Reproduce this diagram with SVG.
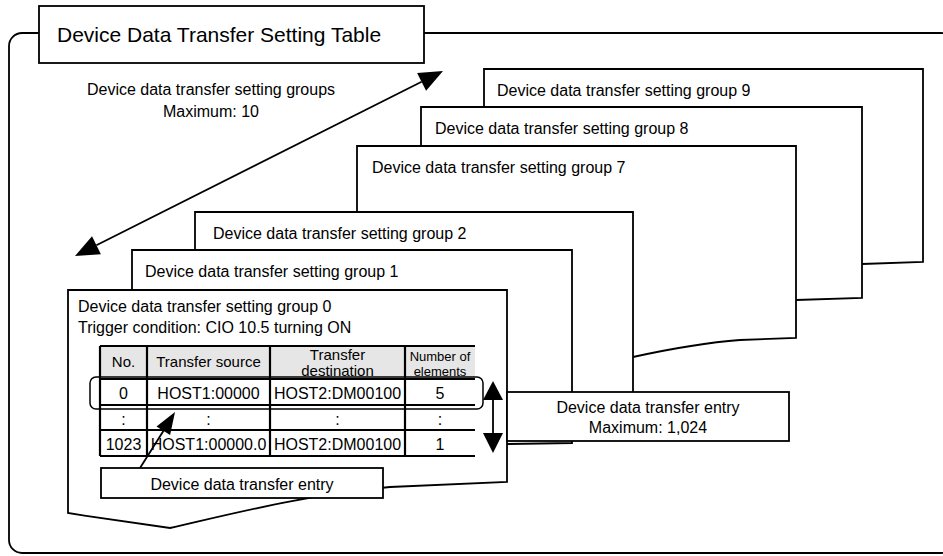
<svg xmlns="http://www.w3.org/2000/svg" width="943" height="556" viewBox="0 0 943 556">
<style>
.ln{fill:none;stroke:#000;stroke-width:1.8}
.pg{fill:#fff;stroke:#000;stroke-width:1.8;stroke-linejoin:miter}
.t{font-family:"Liberation Sans",Arial,sans-serif;font-size:16px;fill:#000}
.c{text-anchor:middle}
.hd{font-size:15px}
.sm{font-size:13px}
.ah{fill:#000;stroke:none}
</style>
<rect width="943" height="556" fill="#fff"/>
<g id="frame">
<rect class="ln" x="9" y="33" width="945" height="520" rx="13"/>
</g>
<g id="title">
<rect class="pg" x="39" y="6" width="385" height="57"/>
<text class="t" x="57" y="42" style="font-size:21px">Device Data Transfer Setting Table</text>
</g>
<g id="group9">
<path class="pg" d="M484,69 H923 V262 L862,264 L484,290 Z"/>
<text class="t" x="497" y="96">Device data transfer setting group 9</text>
</g>
<g id="group8">
<path class="pg" d="M421,107 H862 V298 L796,300 L421,330 Z"/>
<text class="t" x="435" y="134">Device data transfer setting group 8</text>
</g>
<g id="group7">
<path class="pg" d="M357,146 H796 V338 L740,340 C700,343 665,350 633,357 L357,380 Z"/>
<text class="t" x="372" y="173">Device data transfer setting group 7</text>
</g>
<g id="group2">
<path class="pg" d="M195,212 H633 V420 L195,440 Z"/>
<text class="t" x="213" y="239">Device data transfer setting group 2</text>
</g>
<g id="group1">
<path class="pg" d="M132,250 H572 V443 L132,450 Z"/>
<text class="t" x="145" y="277">Device data transfer setting group 1</text>
</g>
<g id="group0">
<path class="pg" d="M68,290 H507 V482 L390,487 C310,494 240,512 170,528 C130,522 100,518 68,513 Z"/>
<text class="t" x="78" y="312">Device data transfer setting group 0</text>
<text class="t" x="78" y="333">Trigger condition: CIO 10.5 turning ON</text>
</g>
<g id="table">
<rect x="100" y="346" width="375" height="32" fill="#e6e6e6"/>
<g class="ln" style="stroke-width:2.2">
<path d="M100,346 H475 M100,379 H475 M100,405 H475 M100,430 H475 M100,456 H475"/>
<path d="M100,346 V456 M147,346 V456 M270,346 V456 M405,346 V456"/>
</g>
<text class="t hd c" x="123.5" y="367">No.</text>
<text class="t hd c" x="208.5" y="367">Transfer source</text>
<text class="t hd c" x="337.5" y="360">Transfer</text>
<text class="t hd c" x="337.5" y="376">destination</text>
<text class="t sm c" x="440" y="361">Number of</text>
<text class="t sm c" x="440" y="376">elements</text>
<text class="t c" x="123.5" y="399">0</text>
<text class="t c" x="208.5" y="399">HOST1:00000</text>
<text class="t c" x="337.5" y="399">HOST2:DM00100</text>
<text class="t c" x="440" y="399">5</text>
<text class="t c" x="123.5" y="425">:</text>
<text class="t c" x="208.5" y="425">:</text>
<text class="t c" x="337.5" y="425">:</text>
<text class="t c" x="440" y="425">:</text>
<text class="t c" x="123.5" y="450">1023</text>
<text class="t c" x="208.5" y="450">HOST1:00000.0</text>
<text class="t c" x="337.5" y="450">HOST2:DM00100</text>
<text class="t c" x="440" y="450">1</text>
<rect class="ln" x="90" y="377" width="393" height="32" rx="6" style="stroke-width:1.5"/>
</g>
<g id="entry-max">
<rect class="pg" x="507" y="392" width="282" height="49"/>
<text class="t c" x="648" y="413">Device data transfer entry</text>
<text class="t c" x="648" y="433">Maximum: 1,024</text>
</g>
<g id="entry">
<rect class="pg" x="101" y="468" width="282" height="30"/>
<text class="t c" x="242" y="490">Device data transfer entry</text>
</g>
<g id="groups-label">
<text class="t c" x="211" y="95">Device data transfer setting groups</text>
<text class="t c" x="211" y="117">Maximum: 10</text>
</g>
<g id="connectors">
<line class="ln" x1="96.4" y1="245.2" x2="421.6" y2="81.8"/>
<polygon class="ah" points="443,71 426.1,90.7 417.1,72.9"/>
<polygon class="ah" points="75,256 100.9,254.2 92,236.3"/>
<line class="ln" x1="493" y1="398" x2="493" y2="436"/>
<polygon class="ah" points="493,381 483,400 503,400"/>
<polygon class="ah" points="493,453 483,433 503,433"/>
<line class="ln" x1="140" y1="468" x2="164" y2="430"/>
<polygon class="ah" points="175,412 170.1,434.9 156.5,426.5"/>
</g>
</svg>
